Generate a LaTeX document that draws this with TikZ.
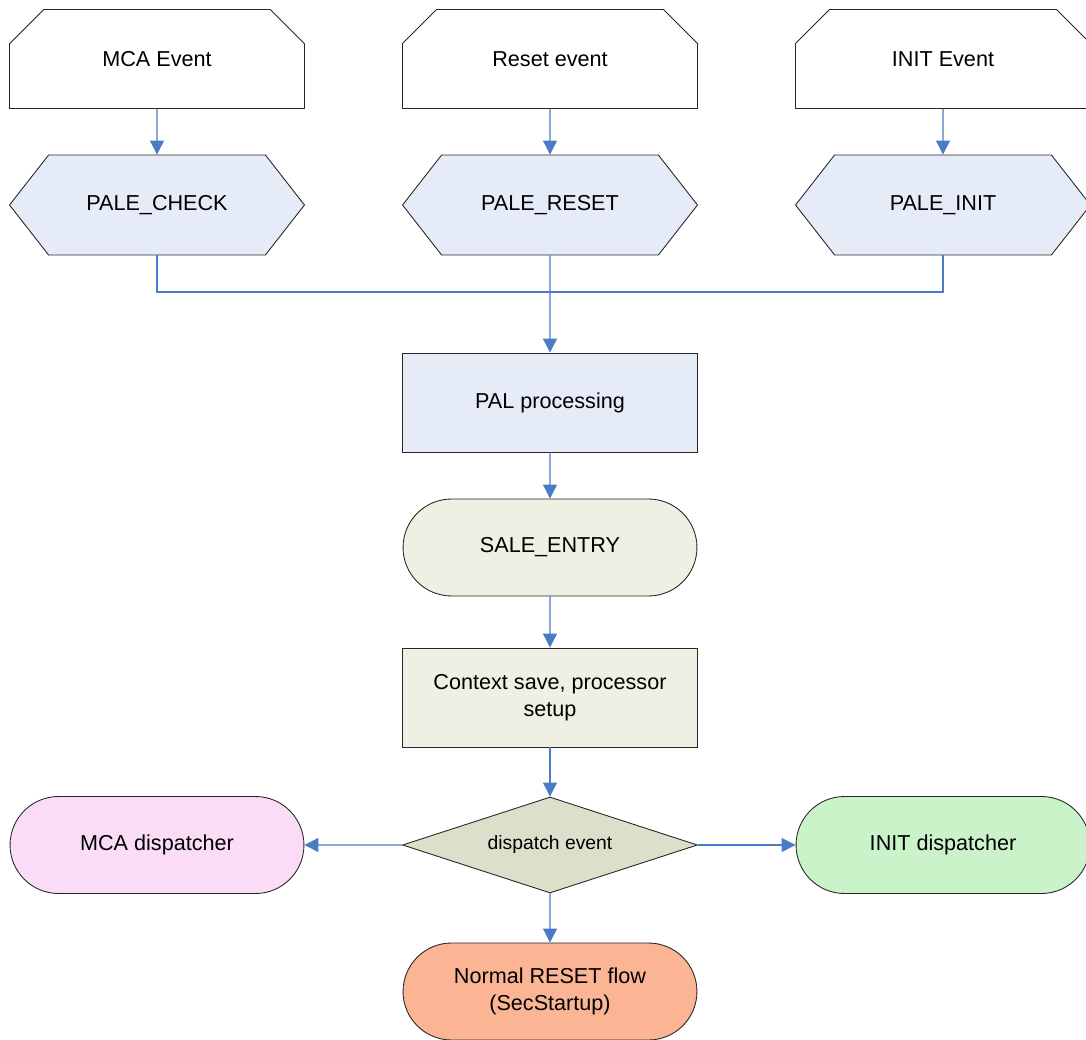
\documentclass[tikz,border=0pt]{standalone}
\usepackage{fontspec}
\setmainfont{Liberation Sans}
\usetikzlibrary{shapes.misc,shapes.geometric,shapes.symbols,arrows.meta}

\definecolor{flow}{HTML}{4A7BC4}
\definecolor{palblue}{HTML}{E6ECF7}
\definecolor{saleolive}{HTML}{EFEFE3}
\definecolor{dispolive}{HTML}{DCDFC9}
\definecolor{mcapink}{HTML}{FADCF6}
\definecolor{initgreen}{HTML}{CAF3CA}
\definecolor{resetorange}{HTML}{FBB595}

\tikzset{
  box/.style={draw=black!85, line width=0.5pt, minimum width=5.9cm, minimum height=1.98cm,
    inner sep=2pt, align=center, font=\fontsize{12.3}{15.3}\selectfont},
  eventbox/.style={box, chamfered rectangle, chamfered rectangle corners={north west,north east},
    chamfered rectangle xsep=0.5cm, chamfered rectangle ysep=0.46cm, fill=white},
  hexbox/.style={box, signal, signal to=west and east, signal pointer angle=104,
    minimum height=2cm, fill=palblue},
  stadium/.style={box, rounded rectangle, minimum width=6.02cm, minimum height=1.94cm},
  choice/.style={box, diamond, aspect=3.07, minimum width=5.9cm, minimum height=1.92cm,
    inner sep=0pt, fill=dispolive, font=\fontsize{11}{13}\selectfont},
  flowline/.style={draw=flow, line width=0.6pt},
  flowarrow/.style={flowline, -{Triangle[width=0.28cm,length=0.28cm]}}
}

\begin{document}
\begin{tikzpicture}[x=0.02cm,y=-0.02cm]
  \useasboundingbox (0,0) rectangle (1086,1040);

  \coordinate (EvA) at (157,59);
  \coordinate (EvB) at (550,59);
  \coordinate (EvC) at (943,59);
  \coordinate (HxA) at (157,205);
  \coordinate (HxB) at (550,205);
  \coordinate (HxC) at (943,205);
  \coordinate (join) at (550,292);
  \coordinate (P) at (550,402.5);
  \coordinate (S) at (550,547.5);
  \coordinate (C) at (550,697.5);
  \coordinate (D) at (550,845);
  \coordinate (L) at (157,845);
  \coordinate (R) at (943,845);
  \coordinate (N) at (550,991.5);

  % event sources
  \node[eventbox] (mcaev) at (EvA) {MCA Event};
  \node[eventbox] (rstev) at (EvB) {Reset event};
  \node[eventbox] (iniev) at (EvC) {INIT Event};

  \node[hexbox] (palecheck) at (HxA) {PALE\_CHECK};
  \node[hexbox] (palereset) at (HxB) {PALE\_RESET};
  \node[hexbox] (paleinit) at (HxC) {PALE\_INIT};

  % main flow
  \node[box, fill=palblue] (pal) at (P) {PAL processing};
  \node[stadium, fill=saleolive] (sale) at (S) {SALE\_ENTRY};
  \node[box, fill=saleolive] (ctx) at (C) {Context save, processor\\setup};
  \node[choice] (disp) at (D) {dispatch event};
  \node[stadium, fill=mcapink] (mcadisp) at (L) {MCA dispatcher};
  \node[stadium, fill=initgreen] (initdisp) at (R) {INIT dispatcher};
  \node[stadium, fill=resetorange] (normal) at (N) {Normal RESET flow\\(SecStartup)};

  \draw[flowarrow] (mcaev) -- (palecheck);
  \draw[flowarrow] (rstev) -- (palereset);
  \draw[flowarrow] (iniev) -- (paleinit);
  \draw[flowline] (palecheck) |- (join);
  \draw[flowline] (paleinit) |- (join);
  \draw[flowarrow] (palereset) -- (pal);
  \draw[flowarrow] (pal) -- (sale);
  \draw[flowarrow] (sale) -- (ctx);
  \draw[flowarrow] (ctx) -- (disp);
  \draw[flowarrow] (disp) -- (mcadisp);
  \draw[flowarrow] (disp) -- (initdisp);
  \draw[flowarrow] (disp) -- (normal);
\end{tikzpicture}
\end{document}
